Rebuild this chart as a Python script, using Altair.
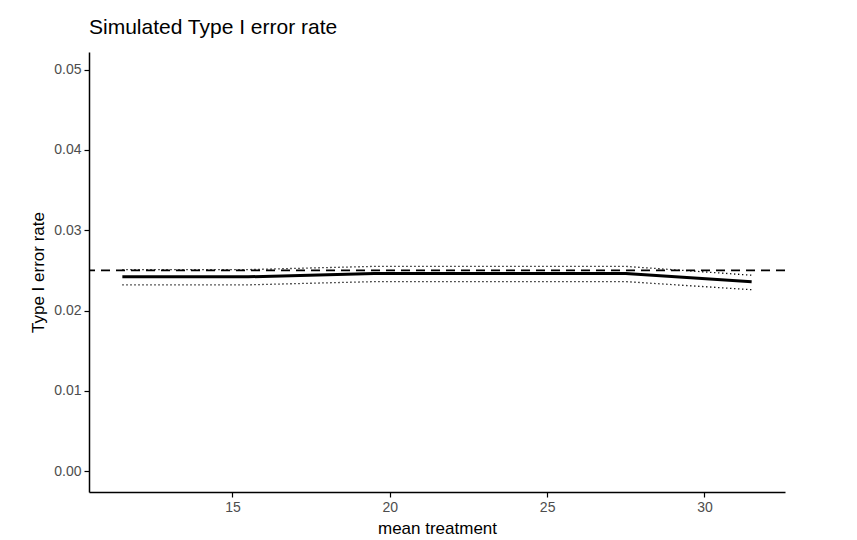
import altair as alt
import pandas as pd

mean_treatment = [11.5, 15.5, 19.5, 23.5, 27.5, 31.5]
type1_rate = [0.0242, 0.0242, 0.0246, 0.0246, 0.0246, 0.0236]
upper_ci = [0.0251, 0.0251, 0.0255, 0.0255, 0.0255, 0.0244]
lower_ci = [0.0232, 0.0232, 0.0236, 0.0236, 0.0236, 0.0226]
nominal = 0.025
x_ticks = [15, 20, 25, 30]
y_ticks = [0.0, 0.01, 0.02, 0.03, 0.04, 0.05]

df = pd.DataFrame({"x": mean_treatment, "rate": type1_rate,
                   "upper": upper_ci, "lower": lower_ci})

FONT = "Liberation Sans"
xs = alt.Scale(domain=[10.44, 32.56], nice=False, zero=False)
ys = alt.Scale(domain=[-0.0026, 0.0522], nice=False, zero=False)

xenc = alt.X("x:Q", scale=xs, title="mean treatment",
             axis=alt.Axis(values=x_ticks, grid=False, domainColor="black",
                           tickColor="black", tickSize=5, labelPadding=3,
                           labelColor="#4D4D4D", labelFontSize=14,
                           titleFontSize=17, titleColor="black",
                           titlePadding=6, titleFontWeight="normal",
                           labelFont=FONT, titleFont=FONT, domainWidth=1.5,
                           tickWidth=1.2))
yaxis = alt.Axis(values=y_ticks, format=".2f", grid=False, domainColor="black",
                 tickColor="black", tickSize=5, labelPadding=3,
                 labelColor="#4D4D4D", labelFontSize=14,
                 titleFontSize=17, titleColor="black", titlePadding=6,
                 titleFontWeight="normal", labelFont=FONT, titleFont=FONT,
                 domainWidth=1.5, tickWidth=1.2)

base = alt.Chart(df)
solid = base.mark_line(color="black", strokeWidth=3).encode(
    x=xenc, y=alt.Y("rate:Q", scale=ys, title="Type I error rate", axis=yaxis))
up = base.mark_line(color="black", strokeWidth=1.3, strokeDash=[1.3, 2.7]).encode(
    x="x:Q", y="upper:Q")
lo = base.mark_line(color="black", strokeWidth=1.3, strokeDash=[1.3, 2.7]).encode(
    x="x:Q", y="lower:Q")
hline = alt.Chart(pd.DataFrame({"y": [nominal]})).mark_rule(
    color="black", strokeWidth=1.8, strokeDash=[9, 6]).encode(y="y:Q")

chart = alt.layer(solid, up, lo, hline).properties(
    width=696, height=440,
    title=alt.TitleParams("Simulated Type I error rate", anchor="start",
                          frame="group", fontSize=21, font=FONT,
                          fontWeight="normal", color="black", offset=14),
    autosize=alt.AutoSizeParams(type="none"),
    padding={"left": 81, "top": 44, "right": 60, "bottom": 48},
).configure_view(stroke=None)

chart.save("out.html", embed_options={"renderer": "svg", "actions": False})
